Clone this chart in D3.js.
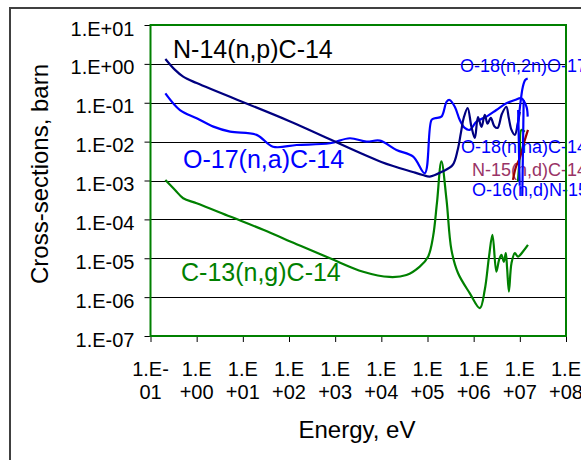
<!DOCTYPE html>
<html>
<head>
<meta charset="utf-8">
<script src="https://cdnjs.cloudflare.com/ajax/libs/d3/7.8.5/d3.min.js"></script>
<style>
  html, body { margin: 0; padding: 0; background: #fff; }
  svg { display: block; font-family: "Liberation Sans", Arial, sans-serif; }
</style>
</head>
<body>
<svg width="581" height="460"></svg>
<script>
// energies in eV, cross-sections in barn
var n14Energy = [0.21, 0.34, 0.51, 1.0, 100, 1e4, 4.8e4, 7.9e4, 1.12e5, 2.1e5, 3.5e5, 4.5e5, 5.3e5, 6.1e5,
    7.4e5, 8.95e5, 1.06e6, 1.24e6, 1.48e6, 1.74e6, 2.0e6, 2.35e6, 2.8e6, 3.3e6, 4.1e6, 5.1e6,
    5.75e6, 6.6e6, 7.8e6, 9.0e6, 1.0e7];
var n14Sigma = [1.34, 0.70, 0.47, 0.32, 0.034, 3.0e-3, 1.66e-3, 1.39e-3, 1.26e-3, 1.7e-3, 2.5e-3, 6.1e-3, 1.7e-2, 4.1e-2,
    7.3e-2, 2.4e-2, 1.24e-2, 4.3e-2, 2.4e-2, 4.9e-2, 2.9e-2, 4.1e-2, 2.5e-2, 2.25e-2, 5.2e-2, 7.9e-2,
    4.1e-2, 2.0e-2, 1.49e-2, 2.9e-2, 5.8e-2];

var o17Energy = [0.21, 0.435, 1.0, 2.3, 5.3, 19.9, 45, 146, 770, 2080, 4790, 9290, 2.13e4, 4.9e4, 8.7e4,
    1.22e5, 1.44e5, 2.0e5, 2.6e5, 3.0e5, 3.9e5, 5.0e5, 6.4e5, 8.2e5, 1.15e6, 1.9e6, 3.1e6, 5.1e6,
    7.8e6, 1.08e7, 1.39e7, 1.48e7];
var o17Sigma = [0.175, 0.065, 0.040, 0.0243, 0.0181, 0.0149, 0.0074, 0.0082, 0.0091, 0.0122, 0.0100, 0.0106, 0.0061, 0.0041, 0.00154,
    0.036, 0.040, 0.044, 0.107, 0.118, 0.079, 0.036, 0.0225, 0.020, 0.0327, 0.044, 0.065, 0.097,
    0.118, 0.130, 0.079, 0.044];

var c13Energy = [0.21, 0.34, 0.51, 1.0, 5.3, 27.7, 146, 770, 4040, 1.5e4, 3.5e4, 6.8e4, 1.03e5, 1.32e5, 1.6e5,
    2.0e5, 2.58e5, 3.3e5, 4.6e5, 8.2e5, 1.36e6, 1.74e6, 2.15e6, 2.55e6, 3.1e6, 3.55e6, 4.0e6, 4.5e6,
    4.96e6, 5.3e6, 5.8e6, 6.6e6, 7.8e6, 9.1e6, 1.17e7, 1.5e7];
var c13Sigma = [1.03e-3, 5.7e-4, 3.5e-4, 2.6e-4, 1.18e-4, 5.4e-5, 2.3e-5, 1.0e-5, 4.5e-6, 3.3e-6, 3.7e-6, 6.1e-6, 1.1e-5, 3.6e-5, 2.6e-4,
    3.1e-3, 3.2e-4, 1.64e-5, 4.1e-6, 1.27e-6, 5.2e-7, 1.54e-6, 1.1e-5, 4.0e-5, 4.5e-6, 9.1e-6, 1.22e-5, 8.1e-6,
    1.35e-5, 5.6e-6, 1.39e-6, 7.5e-6, 1.35e-5, 1.1e-5, 1.49e-5, 2.2e-5];

var o18n2nEnergy = [8.8e6, 1.0e7, 1.16e7, 1.31e7, 1.48e7];
var o18n2nSigma = [0.020, 0.073, 0.255, 0.385, 0.42];

var o18nnaEnergy = [9.96e6, 9.7e6, 9.5e6, 9.2e6];
var o18nnaSigma = [7.3e-4, 2.5e-3, 0.011, 0.065];

var o16ndEnergy = [1.13e7, 1.16e7, 1.19e7, 1.21e7];
var o16ndSigma = [4.0e-4, 3.4e-3, 0.027, 0.118];

var n15ndEnergy = [7.1e6, 8.3e6, 1.0e7, 1.17e7, 1.5e7];
var n15ndSigma = [1.04e-3, 2.3e-3, 3.8e-3, 7.6e-3, 0.020];

var extraEnergy = [9.1e6, 1.0e7, 1.08e7, 1.28e7];
var extraSigma = [9.4e-4, 4.5e-3, 0.020, 0.018];

var xTicks = [1e-1, 1e0, 1e1, 1e2, 1e3, 1e4, 1e5, 1e6, 1e7, 1e8];
var xTickTop = ["1.E-", "1.E", "1.E", "1.E", "1.E", "1.E", "1.E", "1.E", "1.E", "1.E"];
var xTickBottom = ["01", "+00", "+01", "+02", "+03", "+04", "+05", "+06", "+07", "+08"];
var yTicks = [1e1, 1e0, 1e-1, 1e-2, 1e-3, 1e-4, 1e-5, 1e-6, 1e-7];
var yTickLabels = ["1.E+01", "1.E+00", "1.E-01", "1.E-02", "1.E-03", "1.E-04", "1.E-05", "1.E-06", "1.E-07"];

var series = [
    { e: o17Energy, s: o17Sigma, color: "#0000ff" },
    { e: c13Energy, s: c13Sigma, color: "#008000" },
    { e: n14Energy, s: n14Sigma, color: "#000080" },
    { e: o18n2nEnergy, s: o18n2nSigma, color: "#0000ff" },
    { e: extraEnergy, s: extraSigma, color: "#008000" },
    { e: n15ndEnergy, s: n15ndSigma, color: "#990000" },
    { e: o18nnaEnergy, s: o18nnaSigma, color: "#0000ff" },
    { e: o16ndEnergy, s: o16ndSigma, color: "#0000ff" }
];

var labels = [
    { text: "N-14(n,p)C-14", x: 173, y: 58, size: 25, color: "#000000" },
    { text: "O-17(n,a)C-14", x: 183, y: 168, size: 25, color: "#0000ff" },
    { text: "C-13(n,g)C-14", x: 181, y: 281, size: 25, color: "#008000" },
    { text: "O-18(n,2n)O-17", x: 460, y: 72, size: 18, color: "#0000ff" },
    { text: "O-18(n,na)C-14", x: 461, y: 153, size: 18, color: "#0000ff" },
    { text: "N-15(n,d)C-14", x: 472, y: 176, size: 18, color: "#993366" },
    { text: "O-16(n,d)N-15", x: 472, y: 196, size: 18, color: "#0000ff" }
];

var svg = d3.select("svg");
var plotLeft = 150.5, plotRight = 566, plotTop = 25, plotBottom = 336;

var x = d3.scaleLog().domain([1e-1, 1e8]).range([plotLeft, plotRight]);
var y = d3.scaleLog().domain([1e-7, 1e1]).range([plotBottom, plotTop]);

// outer chart border
svg.append("rect")
    .attr("x", 10).attr("y", 8)
    .attr("width", 640).attr("height", 520)
    .attr("fill", "#fff")
    .attr("stroke", "#404040")
    .attr("stroke-width", 2);

// grid lines
svg.append("g")
    .selectAll("line")
    .data(yTicks)
    .enter()
    .append("line")
    .attr("x1", plotLeft).attr("x2", plotRight)
    .attr("y1", function (d) { return Math.round(y(d)) + 0.5; })
    .attr("y2", function (d) { return Math.round(y(d)) + 0.5; })
    .attr("stroke", "#000")
    .attr("stroke-width", 1);

// y axis
var yAxis = d3.axisLeft(y)
    .tickValues(yTicks)
    .tickSize(6)
    .tickFormat(function (d, i) { return yTickLabels[i]; });
var gy = svg.append("g")
    .attr("transform", "translate(" + plotLeft + ",0)")
    .call(yAxis);
gy.select(".domain").remove();
gy.selectAll("text")
    .attr("x", -16)
    .attr("dy", "0.5em")
    .style("font-size", "20px")
    .style("font-family", "'Liberation Sans', Arial, sans-serif")
    .attr("fill", "#000");

// x axis
var xAxis = d3.axisBottom(x)
    .tickValues(xTicks)
    .tickSize(6)
    .tickFormat(function () { return ""; });
var gx = svg.append("g")
    .attr("transform", "translate(0," + plotBottom + ")")
    .call(xAxis);
gx.select(".domain").remove();

var xLab = svg.append("g")
    .selectAll("text")
    .data(xTicks)
    .enter()
    .append("text")
    .attr("x", function (d) { return x(d); })
    .attr("text-anchor", "middle")
    .style("font-size", "20px")
    .attr("fill", "#000");
xLab.append("tspan")
    .attr("x", function (d) { return x(d); })
    .attr("y", 376)
    .text(function (d, i) { return xTickTop[i]; });
xLab.append("tspan")
    .attr("x", function (d) { return x(d); })
    .attr("y", 399)
    .text(function (d, i) { return xTickBottom[i]; });

// series labels (lines run over them)
svg.append("g")
    .selectAll("text")
    .data(labels)
    .enter()
    .append("text")
    .attr("x", function (d) { return d.x; })
    .attr("y", function (d) { return d.y; })
    .style("font-size", function (d) { return d.size + "px"; })
    .attr("fill", function (d) { return d.color; })
    .text(function (d) { return d.text; });

// curves
var line = d3.line()
    .x(function (d) { return x(d[0]); })
    .y(function (d) { return y(d[1]); })
    .curve(d3.curveCatmullRom.alpha(0.5));

var plot = svg.append("g");
series.forEach(function (sr) {
    var pts = sr.e.map(function (e, i) { return [e, sr.s[i]]; });
    plot.append("path")
        .attr("d", line(pts))
        .attr("fill", "none")
        .attr("stroke", sr.color)
        .attr("stroke-width", 2.2)
        .attr("stroke-linejoin", "round");
});

// plot area border
svg.append("rect")
    .attr("x", plotLeft).attr("y", plotTop)
    .attr("width", plotRight - plotLeft).attr("height", plotBottom - plotTop)
    .attr("fill", "none")
    .attr("stroke", "#008000")
    .attr("stroke-width", 2);

// axis titles
svg.append("text")
    .attr("transform", "translate(48,174) rotate(-90)")
    .attr("text-anchor", "middle")
    .style("font-size", "24px")
    .text("Cross-sections, barn");

svg.append("text")
    .attr("x", 357)
    .attr("y", 438)
    .attr("text-anchor", "middle")
    .style("font-size", "24px")
    .text("Energy, eV");
</script>
</body>
</html>
